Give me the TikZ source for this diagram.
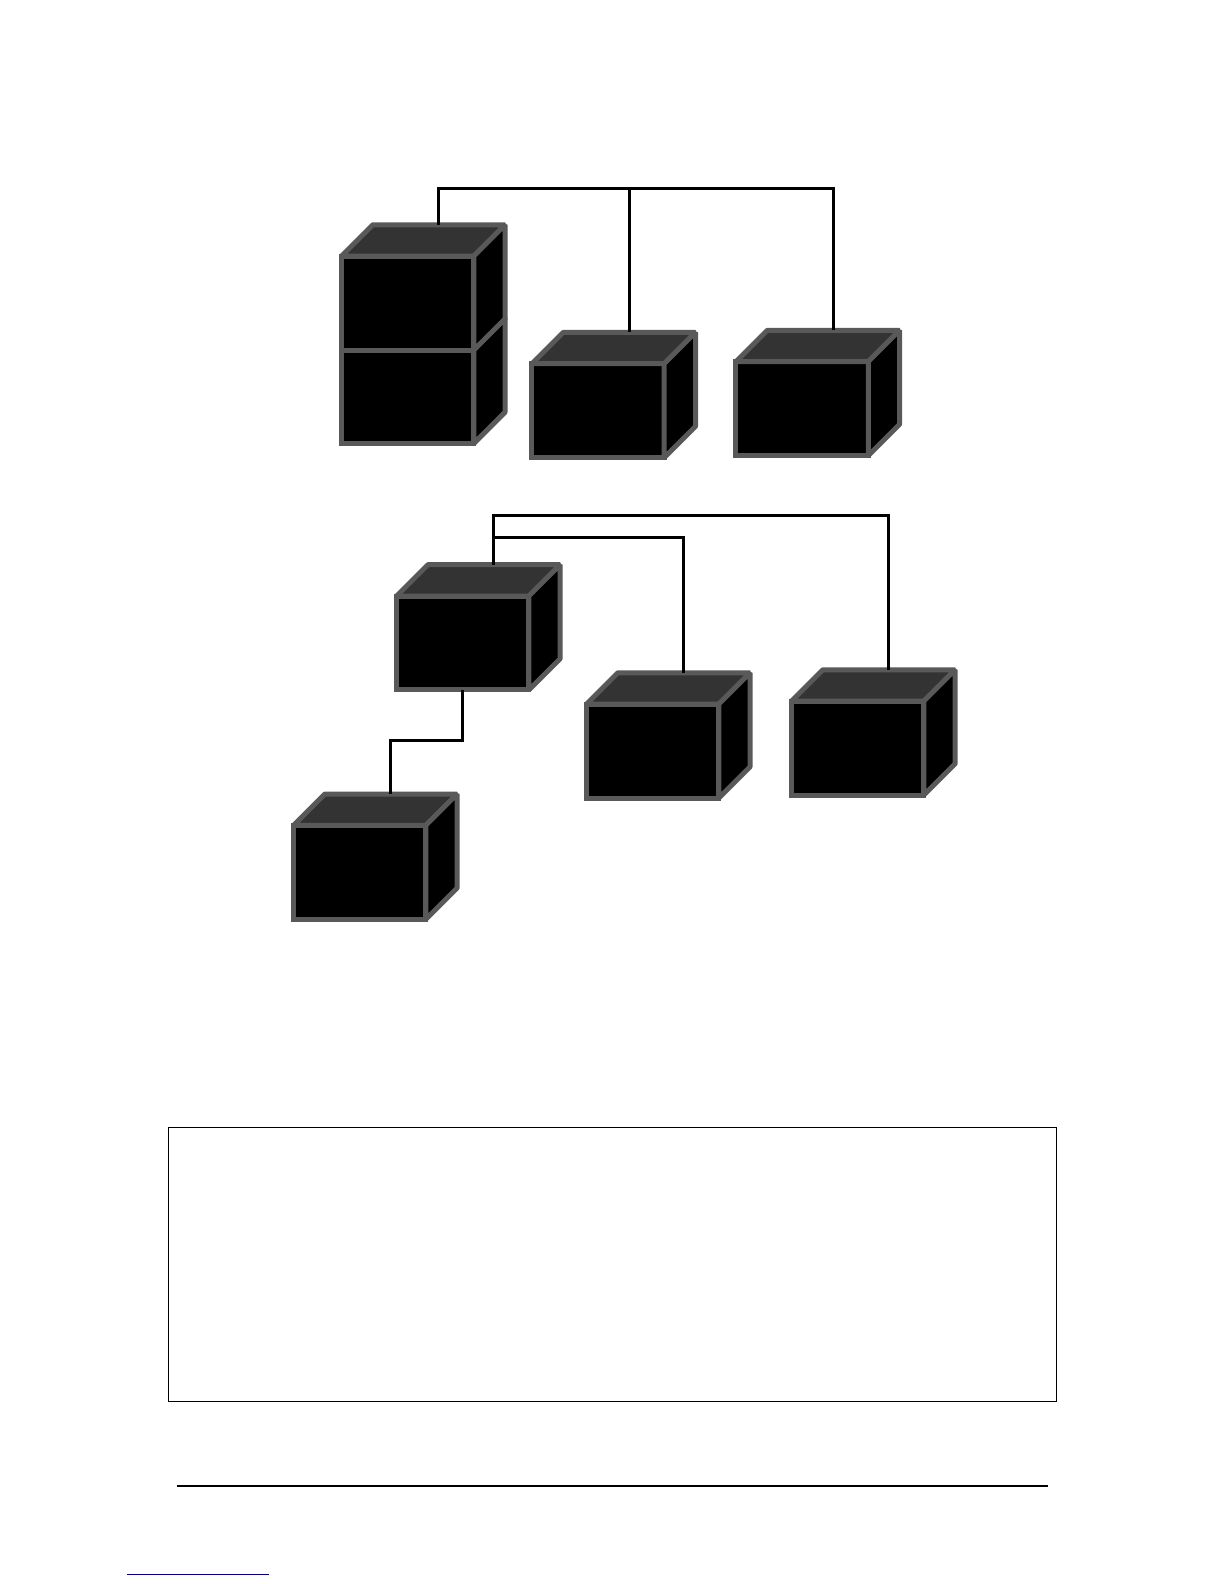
\documentclass[tikz,border=0pt]{standalone}
\usepackage{tikz}
\usetikzlibrary{calc,positioning}
\definecolor{boxedge}{HTML}{595959}
\definecolor{boxtop}{HTML}{333333}
\definecolor{linkblue}{HTML}{000080}
\tikzset{
  frontface/.style={draw=boxedge,fill=black,line width=2.5pt,inner sep=0pt,outer sep=0pt,
                    minimum width=66.15pt,minimum height=46.95pt},
  topface/.style={draw=boxedge,fill=boxtop,line width=2.5pt,line join=bevel},
  sideface/.style={draw=boxedge,fill=black,line width=2.5pt,line join=bevel},
  wire/.style={draw=black,line width=1.5pt,line join=miter},
  frame/.style={draw=black,line width=0.6pt,inner sep=0pt,outer sep=0pt,
                minimum width=443.8pt,minimum height=136.8pt}
}
\newcommand{\unitbox}[3]{
  \node[frontface] (#1) at (#2,#3) {};
  \draw[topface] (#1.north west) -- ++(31,-31) -- ++(131,0) -- (#1.north east) -- cycle;
  \draw[sideface] (#1.north east) -- ++(31,-31) -- ++(0,93) -- (#1.south east) -- cycle;
  \coordinate (#1top) at ($(#1.north)+(31,-31)$);
}
\begin{document}
\begin{tikzpicture}[x=0.50495pt,y=-0.50495pt]
  \useasboundingbox (0,0) rectangle (1212,1568);
  \unitbox{lowerleft}{403.5}{392.5}
  \unitbox{upperleft}{403.5}{300}
  \unitbox{midbox}{592}{406.5}
  \unitbox{rightbox}{794}{404.5}
  \unitbox{parentbox}{458}{636.5}
  \unitbox{childa}{646}{743.5}
  \unitbox{childb}{849}{740.5}
  \unitbox{childc}{356}{863.5}
  \coordinate (upperbus) at (midboxtop |- 0,187);
  \draw[wire] (upperlefttop) |- (upperbus) -- (midboxtop);
  \draw[wire] (upperbus) -| (rightboxtop);
  \coordinate (lowerbus) at (parentboxtop |- 0,510);
  \coordinate (innerbus) at (parentboxtop |- 0,532.5);
  \draw[wire] (parentboxtop) -- (lowerbus) -| (childbtop);
  \draw[wire] (innerbus) -| (childatop);
  \draw[wire] (parentbox.south) -- ++(0,50.5) -| (childctop);
  \node[frame] (notebox) at (606.5,1251.5) {};
  \coordinate (ruleleft) at (175.5,1471);
  \coordinate (ruleright) at (1037,1471);
  \draw[black,line width=1.1pt] (ruleleft) -- (ruleright);
  \coordinate (linkleft) at (125.7,1559);
  \coordinate (linkright) at (266.3,1559);
  \draw[linkblue,line width=0.5pt] (linkleft) -- (linkright);
\end{tikzpicture}
\end{document}
